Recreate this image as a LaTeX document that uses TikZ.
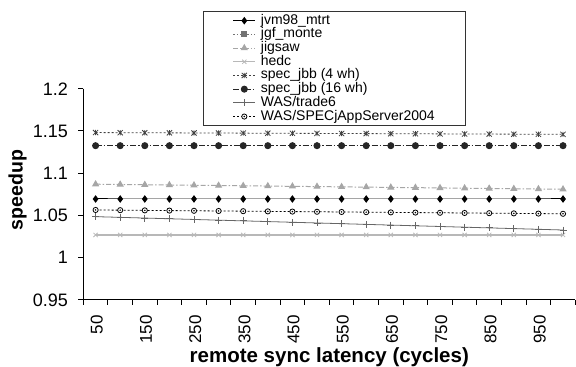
\documentclass[tikz,border=0pt]{standalone}
\usepackage{fontspec}
\setmainfont{Liberation Sans}
\usetikzlibrary{plotmarks}

\pgfdeclareplotmark{xbar}{%
  \pgfpathmoveto{\pgfqpoint{-\pgfplotmarksize}{-\pgfplotmarksize}}%
  \pgfpathlineto{\pgfqpoint{\pgfplotmarksize}{\pgfplotmarksize}}%
  \pgfpathmoveto{\pgfqpoint{-\pgfplotmarksize}{\pgfplotmarksize}}%
  \pgfpathlineto{\pgfqpoint{\pgfplotmarksize}{-\pgfplotmarksize}}%
  \pgfpathmoveto{\pgfqpoint{0pt}{-\pgfplotmarksize}}%
  \pgfpathlineto{\pgfqpoint{0pt}{\pgfplotmarksize}}%
  \pgfusepathqstroke}
\pgfdeclareplotmark{odot}{%
  \pgfpathcircle{\pgfpointorigin}{\pgfplotmarksize}\pgfusepathqfillstroke
  \pgfpathcircle{\pgfpointorigin}{0.3pt}\pgfusepathqstroke}

\tikzset{
  jvmline/.style={black, line width=1pt, mark=diamond*, mark size=3pt, mark options={solid}},
  jgfline/.style={black!55, line width=0.8pt, dash pattern=on 1.5pt off 2pt, mark=square*, mark size=2.5pt, mark options={solid}},
  jigline/.style={black!35, line width=1pt, dash pattern=on 5pt off 2pt on 1.5pt off 2pt, mark=triangle*, mark size=3.2pt, mark options={solid}},
  hedcline/.style={black!28, line width=1.2pt, mark=x, mark size=3pt, mark options={solid, line width=0.8pt}},
  jbbfour/.style={black!75, line width=0.8pt, dash pattern=on 2pt off 2pt, mark=xbar, mark size=2.6pt, mark options={solid}},
  jbbsixteen/.style={black!85, line width=1pt, dash pattern=on 6pt off 2pt on 1.5pt off 2pt, mark=*, mark size=3pt, mark options={solid}},
  tradeline/.style={black!60, line width=0.8pt, mark=+, mark size=3.5pt, mark options={solid}},
  specjline/.style={black, line width=0.8pt, dash pattern=on 2pt off 2pt, mark=odot, mark size=2.6pt, mark options={solid, fill=white}},
  ticklab/.style={inner sep=0pt, font=\fontsize{18}{20}\selectfont},
  axislab/.style={font=\bfseries\fontsize{19.5}{22}\selectfont},
}

\begin{document}
\begin{tikzpicture}[x=24.6pt, y=845pt, shift={(0,-0.95)}]
	\useasboundingbox (-3.386,0.8707) rectangle (20.028,1.305);

	% axes and ticks
	\draw[line width=1pt] (0,1.2) -- (0,0.95) -- (20,0.95);
	\foreach \v [count=\i] in {0.95,1,1.05,1.1,1.15,1.2}
		\draw[line width=1pt] (0,\v) -- ++(-5pt,0pt) node[ticklab, anchor=east, xshift=-10pt] (ytick\i) {\v};
	\foreach \k in {0,...,20}
		\draw[line width=1pt] (\k,0.95) -- ++(0pt,-5pt);
	\foreach \k [evaluate=\k as \lab using int(50+50*\k)] in {0,2,...,18}
		\node[ticklab, rotate=90, anchor=east, font=\fontsize{17}{19}\selectfont] (xtick\k) at (\k+0.55,0.9322) {\lab};

	\node[axislab, rotate=90] (ylab) at (-2.675,1.0802) {speedup};
	\node[axislab, anchor=base, font=\bfseries\fontsize{20.5}{23}\selectfont] (xlab) at (10,0.8758) {remote sync latency (cycles)};

	% data
	\draw[hedcline] plot[samples at={1,...,20}] ({\x-0.5},{1.027});
	\draw[tradeline] plot[samples at={1,...,20}] ({\x-0.5},{1.0486-0.0158*(\x-1)/19});
	\draw[specjline] plot[samples at={1,...,20}] ({\x-0.5},{1.0565-0.0045*(\x-1)/19});
	\draw[jvmline] plot[samples at={1,...,20}] ({\x-0.5},{1.0695});
	\draw[jigline] plot[samples at={1,...,20}] ({\x-0.5},{1.087-0.006*(\x-1)/19});
	\draw[jbbsixteen] plot[samples at={1,...,20}] ({\x-0.5},{1.1326});
	\draw[jbbfour] plot[samples at={1,...,20}] ({\x-0.5},{1.1481-0.0021*(\x-1)/19});

	% legend
	\draw[black!80, line width=0.9pt] (4.89,1.1571) rectangle (15.545,1.2912);
	\foreach \sty/\txt [count=\i] in {jvmline/jvm98\_mtrt, jgfline/jgf\_monte, jigline/jigsaw, hedcline/hedc,
			jbbfour/spec\_jbb (4 wh), jbbsixteen/spec\_jbb (16 wh), tradeline/{WAS/trade6}, specjline/{WAS/SPECjAppServer2004}}
	{
		\pgfmathsetmacro\ly{1.2805-0.01621*(\i-1)}
		\draw[\sty] plot[mark indices={2}] coordinates {(6.098,\ly) (6.545,\ly) (6.98,\ly)};
		\node[anchor=west, inner sep=0pt, text height=10pt, text depth=3pt, font=\fontsize{14}{16}\selectfont] (leg\i) at (7.211,\ly) {\txt};
	}
\end{tikzpicture}
\end{document}
